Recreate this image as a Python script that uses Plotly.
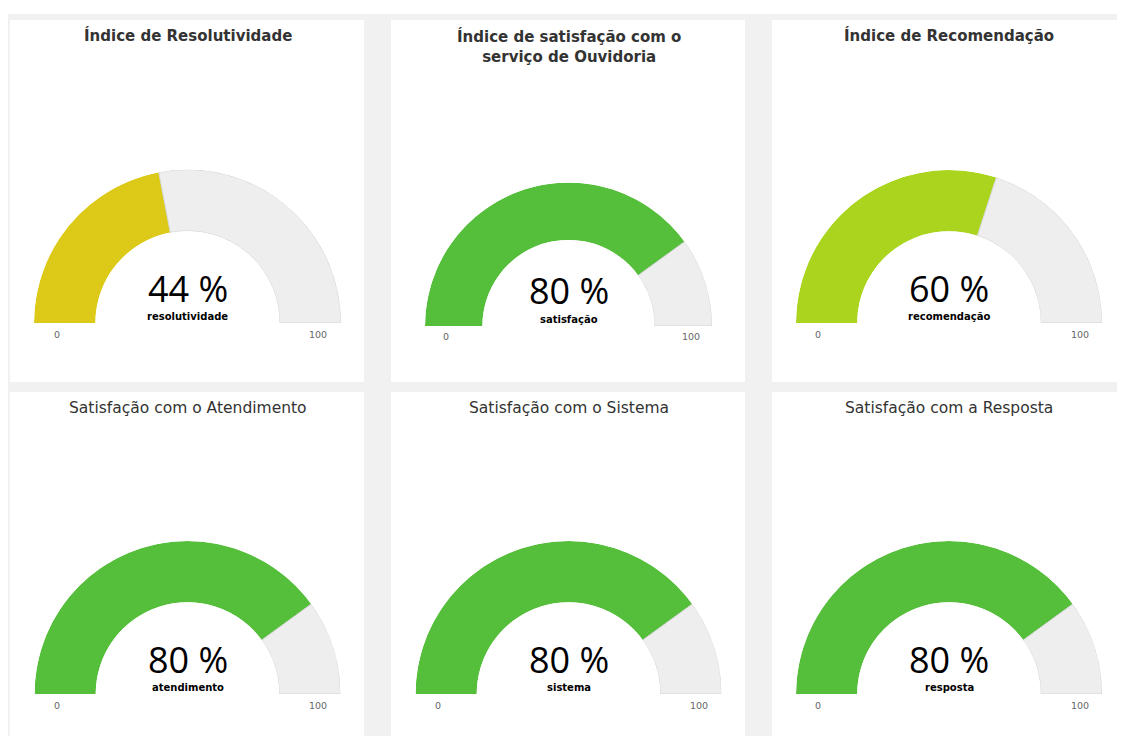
import plotly.graph_objects as go

# page body has an 8px margin: the figure is drawn at (8, 8); keep it inside the window
OFF = 8
W, H = 1125 - 2 * OFF, 744 - 2 * OFF

# ---- data ----
titles = [
    "Índice de Resolutividade",
    "Índice de satisfação com o<br>serviço de Ouvidoria",
    "Índice de Recomendação",
    "Satisfação com o Atendimento",
    "Satisfação com o Sistema",
    "Satisfação com a Resposta",
]
values = [44, 80, 60, 80, 80, 80]
labels = ["resolutividade", "satisfação", "recomendação", "atendimento", "sistema", "resposta"]
bar_colors = ["#DDCA18", "#55BF3B", "#AAD41E", "#55BF3B", "#55BF3B", "#55BF3B"]
gauge_min, gauge_max = 0, 100
tick_labels = [str(gauge_min), str(gauge_max)]

# ---- layout geometry (screen pixels) ----
panel_x = [(10, 364), (391, 745), (772, 1125)]
panel_y = [(20, 382), (392, 744)]
# gauge centre x, centre y (baseline), outer radius
gauges = [(187.5, 323, 153.5), (568.5, 326, 143.5), (949, 323, 153),
          (187.5, 694, 153), (568.5, 694, 153), (949, 694, 153)]
title_y = [36, 46, 36, 408, 408, 408]
title_bold = [True, True, True, False, False, False]

BG = "#F1F1F1"
FONT = "DejaVu Sans"


def px(x):
    return (x - OFF) / W


def py(y):
    return 1 - (y - OFF) / H


fig = go.Figure()
shapes = [dict(type="rect", xref="paper", yref="paper", x0=0, x1=1, y0=py(14), y1=1,
               fillcolor="white", line=dict(width=0), layer="below")]
for (y0, y1) in panel_y:
    for (x0, x1) in panel_x:
        shapes.append(dict(type="rect", xref="paper", yref="paper",
                           x0=px(x0), x1=min(1, px(x1)), y0=max(0, py(y1)), y1=py(y0),
                           fillcolor="white", line=dict(width=0), layer="below"))

annotations = []
layout_polars = {}
span = gauge_max - gauge_min
for i, (cx, cy, R) in enumerate(gauges):
    sp = "polar" if i == 0 else f"polar{i+1}"
    v = values[i]
    frac = (v - gauge_min) / span
    # value arc
    fig.add_trace(go.Barpolar(
        r=[1], theta=[frac * 90], width=[frac * 180], base=0,
        marker=dict(color=bar_colors[i], line=dict(width=0)),
        subplot=sp, hoverinfo="skip", showlegend=False))
    # remaining (background) arc
    fig.add_trace(go.Barpolar(
        r=[1], theta=[(frac + 1) * 90], width=[(1 - frac) * 180], base=0,
        marker=dict(color="#EEEEEE", line=dict(color="#D4D4D4", width=1)),
        subplot=sp, hoverinfo="skip", showlegend=False))
    layout_polars[sp] = dict(
        domain=dict(x=[px(cx - R), px(cx + R)], y=[py(cy), py(cy - R)]),
        sector=[0, 180], hole=0.6, bgcolor="rgba(0,0,0,0)",
        radialaxis=dict(range=[0, 1], visible=False),
        angularaxis=dict(visible=False, rotation=180, direction="clockwise"),
    )
    # centre value
    annotations.append(dict(
        x=px(cx), y=py(cy - 35), xref="paper", yref="paper", showarrow=False,
        text=f"{v} %", xanchor="center", yanchor="middle",
        font=dict(family="Open Sans", size=36, color="#000000")))
    annotations.append(dict(
        x=px(cx), y=py(cy - 7), xref="paper", yref="paper", showarrow=False,
        text=f"<b>{labels[i]}</b>", xanchor="center", yanchor="middle",
        font=dict(family=FONT, size=10, color="#000000")))
    # end tick labels
    for k, sgn in enumerate((-1, 1)):
        annotations.append(dict(
            x=px(cx + sgn * 0.853 * R), y=py(cy + 11), xref="paper", yref="paper",
            showarrow=False, text=tick_labels[k], xanchor="center", yanchor="middle",
            font=dict(family=FONT, size=9.5, color="#666666")))
    # title
    t = f"<b>{titles[i]}</b>" if title_bold[i] else titles[i]
    annotations.append(dict(
        x=px(cx), y=py(title_y[i]), xref="paper", yref="paper", showarrow=False,
        text=t, xanchor="center", yanchor="middle",
        font=dict(family=FONT, size=15 if title_bold[i] else 15.5, color="#333333")))

fig.update_layout(
    width=W, height=H, autosize=False,
    margin=dict(l=0, r=0, t=0, b=0),
    paper_bgcolor=BG, plot_bgcolor=BG,
    shapes=shapes, annotations=annotations, showlegend=False,
    **layout_polars,
)

fig.write_html("out.html")
